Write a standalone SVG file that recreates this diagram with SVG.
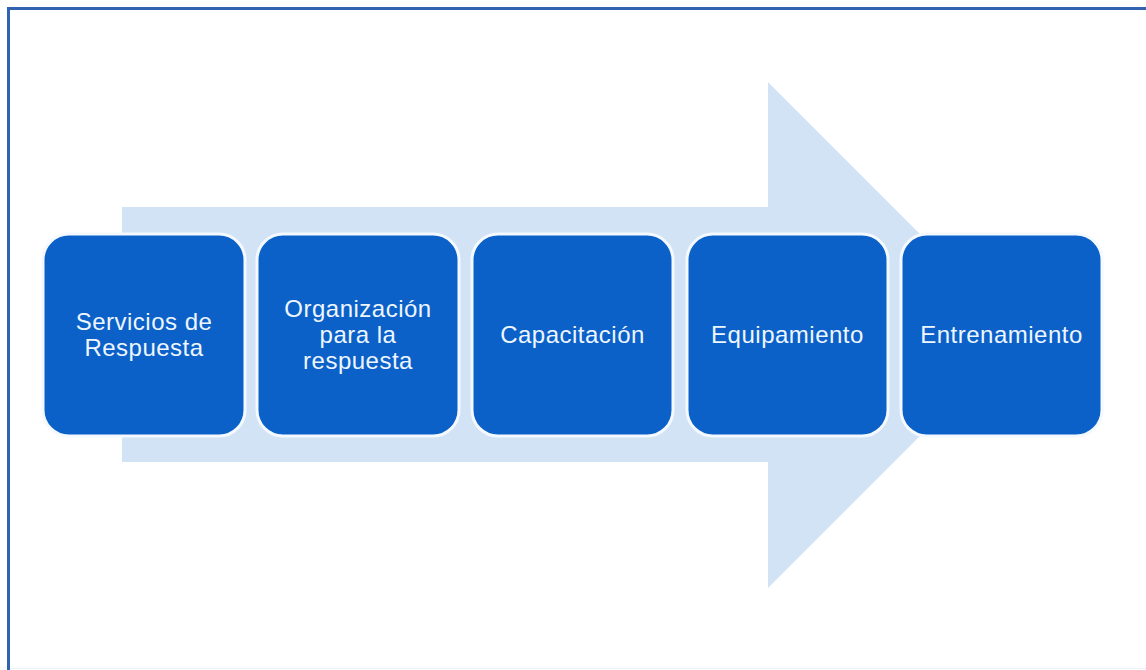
<svg xmlns="http://www.w3.org/2000/svg" width="1146" height="670" viewBox="0 0 1146 670">
<style>
.box{fill:#0b61c8;stroke:#f4f9ff;stroke-width:3}
.lbl{fill:#eef6ff;font-family:"Liberation Sans",Arial,sans-serif;font-size:24px;letter-spacing:0.5px;text-anchor:middle}
</style>
<rect x="0" y="0" width="1146" height="670" fill="#ffffff"/>
<rect x="8.5" y="8.5" width="1150" height="680" fill="#fefffe" stroke="#3263b0" stroke-width="3"/>
<line x1="10" y1="668.5" x2="1146" y2="668.5" stroke="#eef1f8" stroke-width="1"/>
<g id="connectors">
<path id="arrow" d="M122 207 H768 V82 L1021 335 L768 588 V462 H122 Z" fill="#d3e3f6"/>
</g>
<g id="n1"><rect class="box" x="43" y="234" width="202" height="202" rx="26"/><text class="lbl" x="144" y="330">Servicios de</text><text class="lbl" x="144" y="356">Respuesta</text></g>
<g id="n2"><rect class="box" x="257" y="234" width="202" height="202" rx="26"/><text class="lbl" x="358" y="317">Organización</text><text class="lbl" x="358" y="343">para la</text><text class="lbl" x="358" y="369">respuesta</text></g>
<g id="n3"><rect class="box" x="472" y="234" width="201" height="202" rx="26"/><text class="lbl" x="572.5" y="343">Capacitación</text></g>
<g id="n4"><rect class="box" x="687" y="234" width="201" height="202" rx="26"/><text class="lbl" x="787.5" y="343">Equipamiento</text></g>
<g id="n5"><rect class="box" x="901" y="234" width="201" height="202" rx="26"/><text class="lbl" x="1001.5" y="343">Entrenamiento</text></g>
</svg>
